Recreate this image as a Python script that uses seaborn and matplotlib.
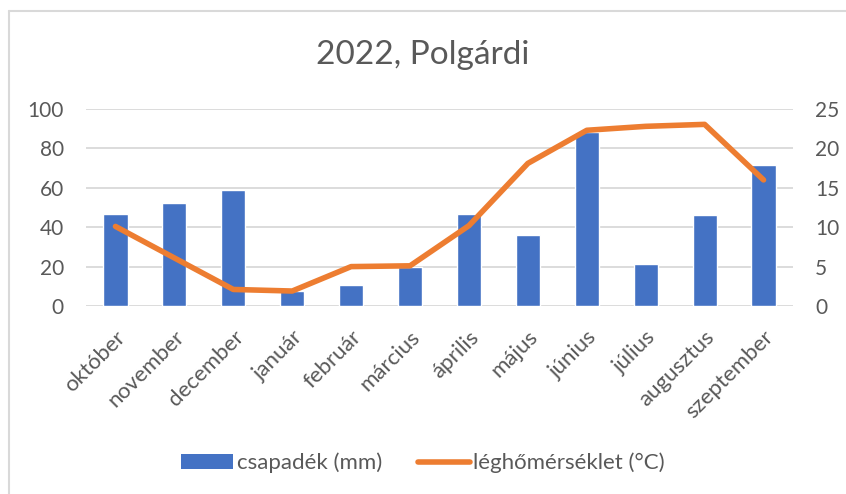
import seaborn as sns
import matplotlib.pyplot as plt
import numpy as np
import pandas as pd
from matplotlib.patches import Patch
from matplotlib.lines import Line2D

months = ["október", "november", "december", "január", "február", "március",
          "április", "május", "június", "július", "augusztus", "szeptember"]
precip = [46.5, 52.3, 58.9, 7.6, 10.7, 20.0, 46.5, 35.9, 88.5, 21.3, 46.0, 71.7]
temp = [10.1, 6.1, 2.1, 1.9, 5.0, 5.1, 10.2, 18.1, 22.3, 22.8, 23.05, 16.0]
left_ticks = [0, 20, 40, 60, 80, 100]
right_ticks = [0, 5, 10, 15, 20, 25]

bar_color = "#4472C4"
line_color = "#ED7D31"
text_color = "#595959"
grid_color = "#D9D9D9"

sns.set_style("white")
plt.rcParams['font.family'] = ['Lato', 'DejaVu Sans']

df = pd.DataFrame({"month": months, "precip": precip, "temp": temp})

fig = plt.figure(figsize=(8.46, 4.94), dpi=100)
ax = fig.add_axes([86 / 846, 1 - 306 / 494, (793 - 86) / 846, (306 - 109) / 494])

sns.barplot(data=df, x="month", y="precip", ax=ax, color=bar_color,
            width=0.41, saturation=1)
ax.set_ylim(0, 100)
ax.set_yticks(left_ticks)
ax.set_xlim(-0.5, len(months) - 0.5)
ax.yaxis.grid(True, color=grid_color, linewidth=1.3)
ax.set_axisbelow(True)
for s in ax.spines.values():
    s.set_visible(False)
ax.set_xlabel("")
ax.set_ylabel("")
ax.tick_params(axis="y", length=0, labelsize=15, labelcolor=text_color, pad=16)
ax.tick_params(axis="x", length=0, labelsize=16, labelcolor=text_color, pad=15)
plt.setp(ax.get_xticklabels(), rotation=45, ha="right", va="top",
         rotation_mode="anchor")

ax2 = ax.twinx()
sns.lineplot(x=np.arange(len(months)), y=df["temp"], ax=ax2, color=line_color,
             linewidth=4, solid_capstyle="round")
ax2.set_ylim(0, 25)
ax2.set_yticks(right_ticks)
ax2.set_xlim(-0.5, len(months) - 0.5)
for s in ax2.spines.values():
    s.set_visible(False)
ax2.set_ylabel("")
ax2.tick_params(axis="y", length=0, labelsize=15, labelcolor=text_color, pad=16)

fig.text(0.5, 1 - 55 / 494, "2022, Polgárdi", ha="center", va="center",
         fontsize=24, color=text_color)

handles = [Patch(facecolor=bar_color, edgecolor="none"),
           Line2D([0], [0], color=line_color, linewidth=4, solid_capstyle="round")]
fig.legend(handles, ["csapadék (mm)", "léghőmérséklet (°C)"], loc="center",
           bbox_to_anchor=(0.5, 1 - 463 / 494), ncol=2, frameon=False,
           fontsize=16, labelcolor=text_color, handlelength=2.35,
           handleheight=0.6, handletextpad=0.15, columnspacing=1.6)

# chart area border
fig.add_artist(Line2D([9 / 846, 1], [1 - 11 / 494, 1 - 11 / 494],
                      transform=fig.transFigure, color=grid_color, linewidth=1.5))
fig.add_artist(Line2D([9 / 846, 9 / 846], [0, 1 - 11 / 494],
                      transform=fig.transFigure, color=grid_color, linewidth=1.5))

fig.savefig("out.png", dpi=100)
